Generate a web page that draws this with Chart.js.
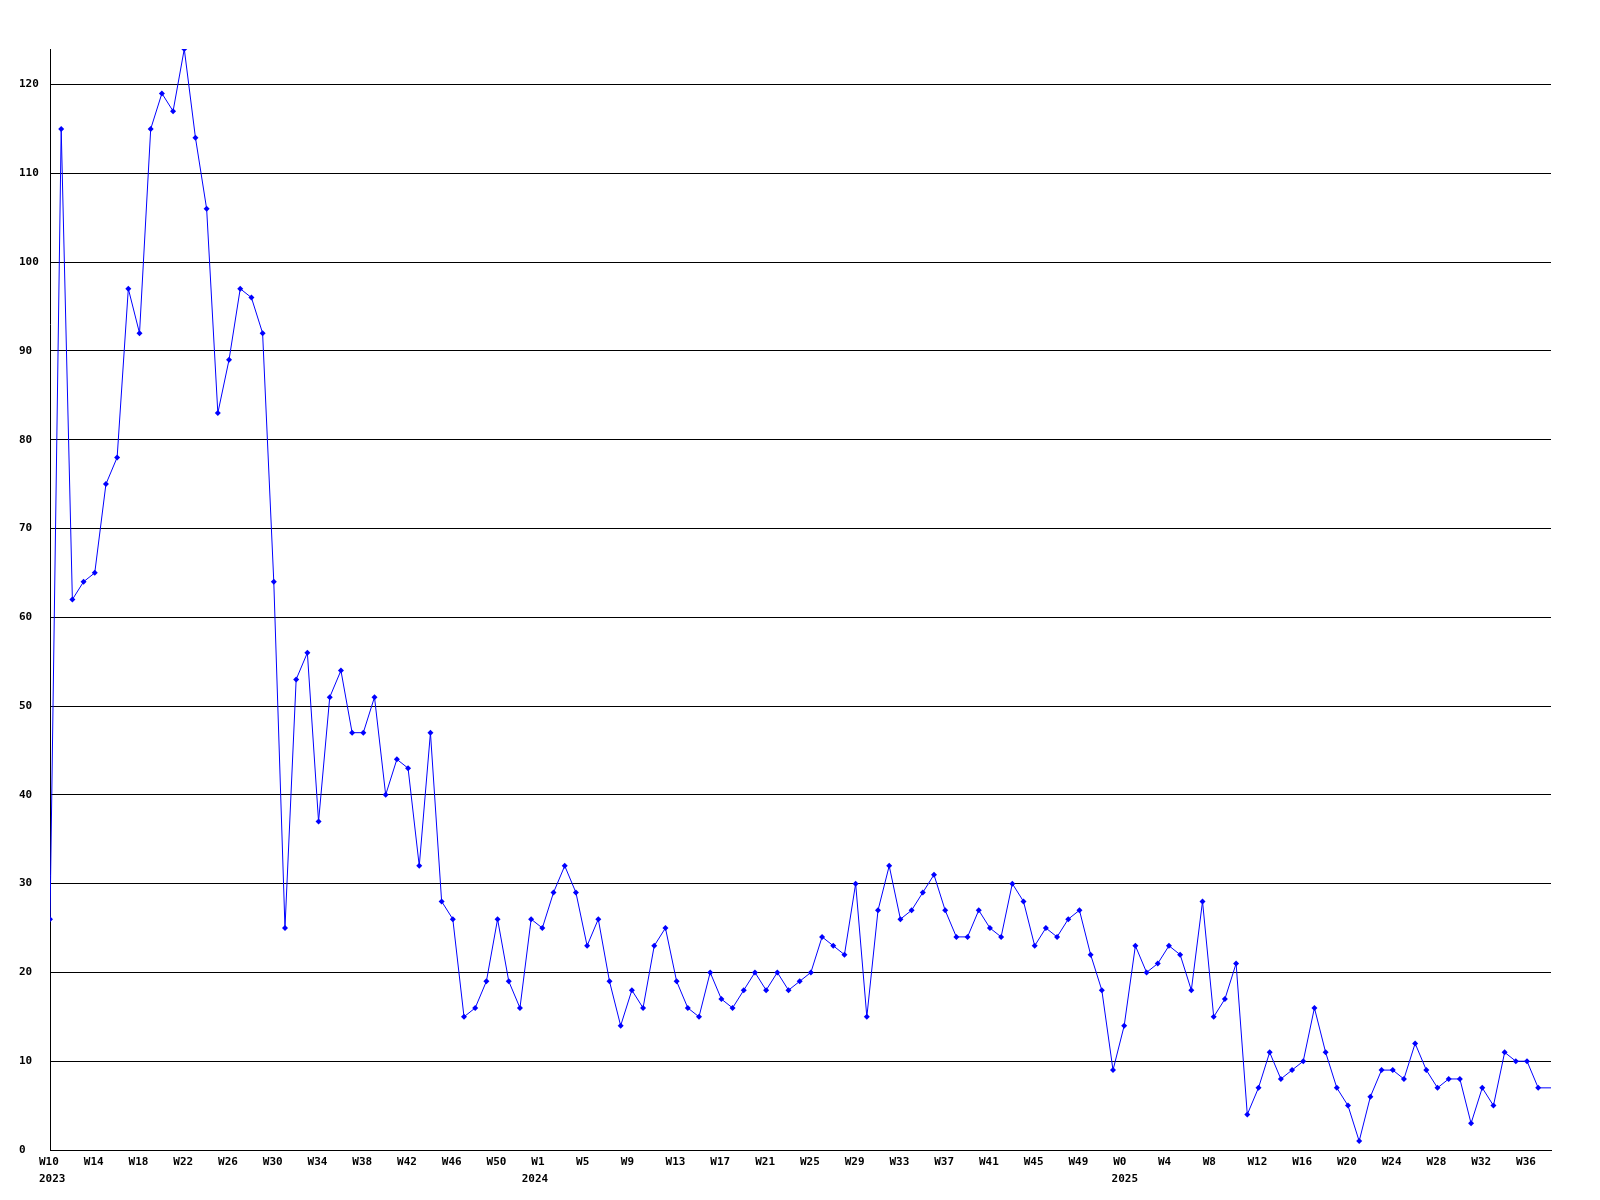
<!DOCTYPE html>
<html>
<head>
<meta charset="utf-8">
<script src="https://cdn.jsdelivr.net/npm/chart.js@4/dist/chart.umd.min.js"></script>
<style>
  body { margin: 0; background: #fff; }
  canvas { display: block; }
</style>
</head>
<body>
<canvas id="weekly-chart" width="1600" height="1200"></canvas>
<script>
// one value per week, starting W10 2023
const weekValues = [
    26, 115, 62, 64, 65, 75, 78, 97, 92, 115,
    119, 117, 124, 114, 106, 83, 89, 97, 96, 92,
    64, 25, 53, 56, 37, 51, 54, 47, 47, 51,
    40, 44, 43, 32, 47, 28, 26, 15, 16, 19,
    26, 19, 16, 26, 25, 29, 32, 29, 23, 26,
    19, 14, 18, 16, 23, 25, 19, 16, 15, 20,
    17, 16, 18, 20, 18, 20, 18, 19, 20, 24,
    23, 22, 30, 15, 27, 32, 26, 27, 29, 31,
    27, 24, 24, 27, 25, 24, 30, 28, 23, 25,
    24, 26, 27, 22, 18, 9, 14, 23, 20, 21,
    23, 22, 18, 28, 15, 17, 21, 4, 7, 11,
    8, 9, 10, 16, 11, 7, 5, 1, 6, 9,
    9, 8, 12, 9, 7, 8, 8, 3, 7, 5,
    11, 10, 10, 7
];
// current (partial) week: line is carried on to today
const todayDay = 939;
const todayValue = 7;

// tick every 4 weeks (28 days)
const weekLabels = [
    "W10", "W14", "W18", "W22", "W26", "W30", "W34", "W38", "W42", "W46", "W50",
    "W1", "W5", "W9", "W13", "W17", "W21", "W25", "W29", "W33", "W37", "W41", "W45", "W49",
    "W0", "W4", "W8", "W12", "W16", "W20", "W24", "W28", "W32", "W36"
];
// years, at the start of each year (days since first week)
const yearLabels = ["2023", "2024", "2025"];
const yearDays = [0, 302, 671];

const points = weekValues.map((v, i) => ({x: i * 7, y: v}));
points.push({x: todayDay, y: todayValue});

const font = {family: "'DejaVu Sans Mono', monospace", size: 11, weight: 'bold', lineHeight: '15px'};

new Chart(document.getElementById('weekly-chart').getContext('2d'), {
    type: 'line',
    data: {
        datasets: [{
            data: points,
            borderColor: '#0000ff',
            backgroundColor: '#0000ff',
            borderWidth: 1,
            tension: 0,
            pointStyle: 'rectRot',
            pointRadius: ctx => ctx.dataIndex === weekValues.length ? 0 : 3,
            pointBorderWidth: 0
        }]
    },
    options: {
        responsive: false,
        animation: false,
        layout: {padding: {left: 19, right: 49, top: 49, bottom: 0}},
        plugins: {legend: {display: false}, tooltip: {enabled: false}},
        scales: {
            x: {
                type: 'linear',
                min: 0,
                max: todayDay,
                weight: 0,
                grid: {display: false, drawTicks: false},
                border: {display: true, color: '#000', width: 1},
                afterBuildTicks: scale => {
                    scale.ticks = weekLabels.map((l, i) => ({value: i * 28}));
                },
                afterFit: scale => { scale.height = 20; },
                ticks: {
                    color: '#000',
                    font: font,
                    padding: 5,
                    align: 'start',
                    labelOffset: -11,
                    maxRotation: 0,
                    autoSkip: false,
                    callback: (value, index) => weekLabels[index]
                }
            },
            x2: {
                type: 'linear',
                position: 'bottom',
                min: 0,
                max: todayDay,
                weight: 1,
                grid: {display: false, drawTicks: false},
                border: {display: false},
                afterBuildTicks: scale => {
                    scale.ticks = yearDays.map(d => ({value: d}));
                },
                afterFit: scale => { scale.height = 30; },
                ticks: {
                    color: '#000',
                    font: font,
                    padding: 2,
                    align: 'start',
                    labelOffset: -11,
                    maxRotation: 0,
                    autoSkip: false,
                    callback: (value, index) => yearLabels[index]
                }
            },
            y: {
                min: 0,
                max: 124,
                grid: {color: '#000', lineWidth: 1, drawTicks: false},
                border: {display: true, color: '#000', width: 1},
                afterBuildTicks: scale => {
                    scale.ticks = scale.ticks.filter(t => t.value % 10 === 0);
                },
                afterFit: scale => { scale.width = 31; },
                ticks: {
                    stepSize: 10,
                    color: '#000',
                    font: font,
                    crossAlign: 'far'
                }
            }
        }
    }
});
</script>
</body>
</html>
